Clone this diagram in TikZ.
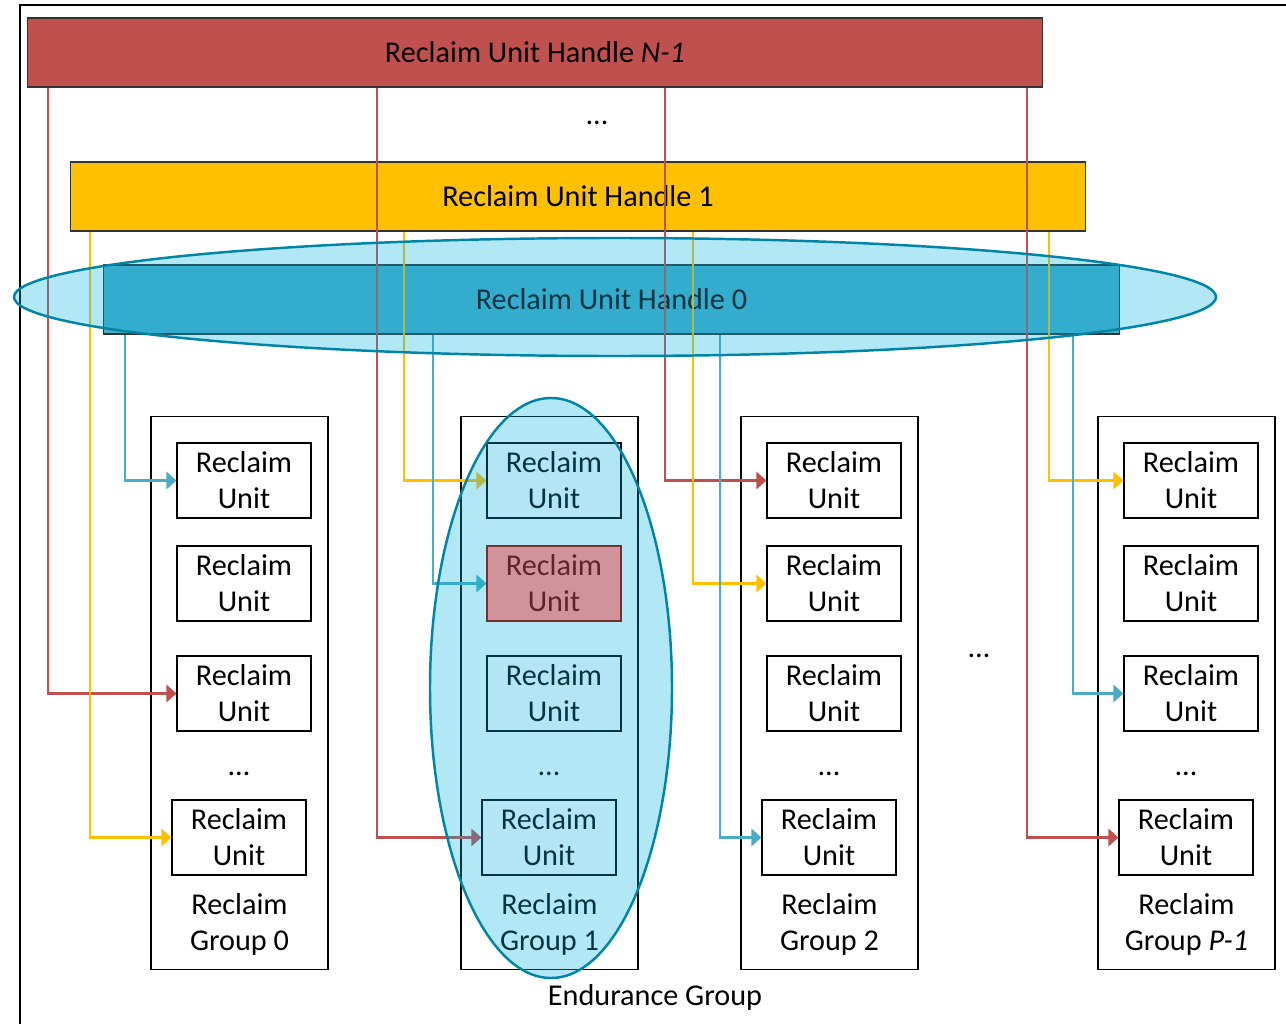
\documentclass[tikz,border=0pt]{standalone}
\usepackage{fontspec}
\setmainfont{Carlito}
\usetikzlibrary{arrows.meta}
\definecolor{rured}{RGB}{192,80,77}
\definecolor{ruyellow}{RGB}{255,192,0}
\definecolor{rublue}{RGB}{75,172,198}
\definecolor{egfill}{RGB}{0,175,222}
\definecolor{egline}{RGB}{0,132,168}
\definecolor{rupink}{RGB}{208,146,155}
\definecolor{rumaroon}{RGB}{95,35,45}
\begin{document}
\begin{tikzpicture}[x=0.02cm,y=-0.02cm,
		every node/.style={font=\fontsize{17.2}{20.5}\selectfont},
		handle/.style={draw=black!80,line width=0.6pt,minimum width=20.32cm,minimum height=1.38cm,inner sep=0pt},
		rgroup/.style={draw=black,line width=0.6pt,minimum width=3.54cm,minimum height=11.08cm,inner sep=0pt},
		runit/.style={draw=black,line width=0.6pt,fill=white,minimum width=2.68cm,minimum height=1.5cm,inner sep=0pt,align=center},
		link/.style={line width=1.4pt,-{Triangle[length=0.2cm,width=0.34cm]}},
		egroup/.style={draw=egline,line width=1.4pt,fill=egfill,fill opacity=0.3}]
		\useasboundingbox (0,0) rectangle (1286,1024);
		\draw[black,line width=0.6pt] (20,1024) -- (20,5) -- (1286,5);
		% handles
		\node[handle,fill=rured] (hN) at (535,52.5) {Reclaim Unit Handle \textit{N-1}};
		\node (hdots) at (597,123) {\dots};
		\node[handle,fill=ruyellow] (hOne) at (578,196.5) {Reclaim Unit Handle 1};
		\node[handle,fill=rublue] (hZero) at (611.5,299.5) {Reclaim Unit Handle 0};
		% reclaim groups
		\foreach \g/\gx/\gl in {0/151/0,1/461/1,2/741/2,3/1098/\textit{P-1}}{
			\node[rgroup] (g\g) at ({\gx+88.5},693) {};
			\node[runit] (u\g1) at ({\gx+93},480.5) {Reclaim\\Unit};
			\node[runit] (u\g2) at ({\gx+93},583.5) {Reclaim\\Unit};
			\node[runit] (u\g3) at ({\gx+93},693.5) {Reclaim\\Unit};
			\node (d\g) at ({\gx+88},774) {\dots};
			\node[runit] (u\g4) at ({\gx+88},837.5) {Reclaim\\Unit};
			\node[align=center] (l\g) at ({\gx+88.5},924) {Reclaim\\Group \gl};
		}
		\node (gdots) at (979,656) {\dots};
		% links
		\foreach \x/\u in {48/u03,377/u14,665/u21,1027/u34}
			\draw[link,rured] (hN.south -| \x,0) |- (\u.west);
		\foreach \x/\u in {90/u04,404/u11,693/u22,1049/u31}
			\draw[link,ruyellow] (hOne.south -| \x,0) |- (\u.west);
		\foreach \x/\u in {125/u01,433/u12,720/u24,1073/u33}
			\draw[link,rublue] (hZero.south -| \x,0) |- (\u.west);
		% highlights
		\draw[egroup] (615,297) ellipse [x radius=601,y radius=59];
		\draw[egroup] (551,688) ellipse [x radius=121,y radius=290];
		\node[runit,fill=rupink,draw=rured!60!black,text=rumaroon] (sel) at (u12) {Reclaim\\Unit};
		\node (eg) at (655,997) {Endurance Group};
	\end{tikzpicture}
\end{document}
